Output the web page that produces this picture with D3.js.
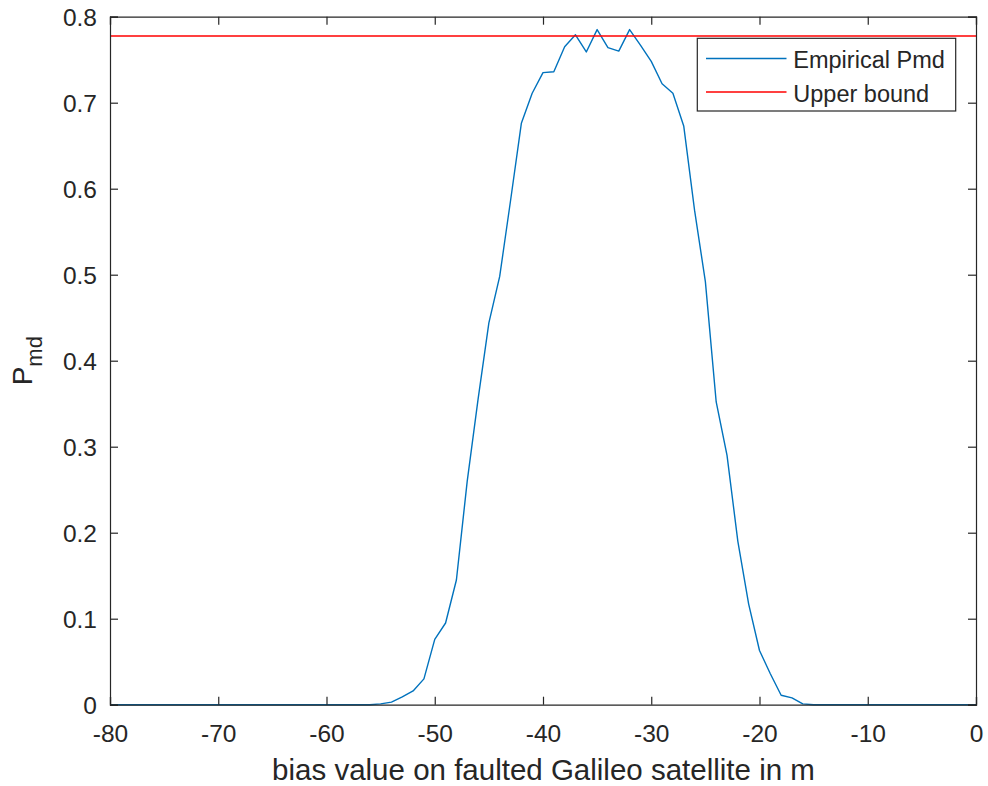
<!DOCTYPE html>
<html>
<head>
<meta charset="utf-8">
<script src="https://cdn.jsdelivr.net/npm/d3@7"></script>
<style>
  html, body { margin: 0; padding: 0; background: #fff; }
  svg { display: block; font-family: "Liberation Sans", Arial, Helvetica, sans-serif; }
</style>
</head>
<body>
<svg id="chart" width="988" height="786"></svg>
<script>
// ---- data ----
const biasValues = d3.range(-80, 1); // -80 ... 0 in 1 m steps
const pmdNonZero = {
  "-56": 0.000, "-55": 0.001, "-54": 0.003, "-53": 0.009, "-52": 0.016, "-51": 0.030,
  "-50": 0.076, "-49": 0.095, "-48": 0.145, "-47": 0.260, "-46": 0.355, "-45": 0.444,
  "-44": 0.498, "-43": 0.586, "-42": 0.676, "-41": 0.711, "-40": 0.735, "-39": 0.736,
  "-38": 0.765, "-37": 0.779, "-36": 0.759, "-35": 0.785, "-34": 0.764, "-33": 0.760,
  "-32": 0.785, "-31": 0.767, "-30": 0.748, "-29": 0.722, "-28": 0.711, "-27": 0.673,
  "-26": 0.575, "-25": 0.492, "-24": 0.352, "-23": 0.290, "-22": 0.190, "-21": 0.117,
  "-20": 0.063, "-19": 0.036, "-18": 0.011, "-17": 0.008, "-16": 0.001, "-15": 0.000
};
const empiricalPmd = biasValues.map(b => pmdNonZero[String(b)] !== undefined ? pmdNonZero[String(b)] : 0);
const upperBound = 0.7775;
const xTicks = [-80, -70, -60, -50, -40, -30, -20, -10, 0];
const yTicks = [0, 0.1, 0.2, 0.3, 0.4, 0.5, 0.6, 0.7, 0.8];
const legendLabels = ["Empirical Pmd", "Upper bound"];
const seriesColors = ["#0072BD", "#FF0000"];

// ---- layout ----
const L = 110, R = 976, T = 16.7, B = 704.7;
const svg = d3.select("#chart");
const x = d3.scaleLinear().domain([-80, 0]).range([L, R]);
const y = d3.scaleLinear().domain([0, 0.8]).range([B, T]);
const axisColor = "#262626";
const tickLen = 8;
const fs = 24.5;

svg.append("rect").attr("x", L).attr("y", T).attr("width", R - L).attr("height", B - T)
  .attr("fill", "#fff");

// lines
const line = d3.line().x((d, i) => x(biasValues[i])).y(d => y(d));
svg.append("path").datum(empiricalPmd).attr("d", line)
  .attr("fill", "none").attr("stroke", seriesColors[0]).attr("stroke-width", 1.4)
  .attr("stroke-linejoin", "round");
svg.append("line").attr("x1", x(-80)).attr("x2", x(0)).attr("y1", y(upperBound)).attr("y2", y(upperBound))
  .attr("stroke", seriesColors[1]).attr("stroke-width", 1.4);

// axes (ticks inward, mirrored)
const xAxisB = d3.axisBottom(x).tickValues(xTicks).tickSize(-tickLen).tickFormat(d => String(d));
const xAxisT = d3.axisTop(x).tickValues(xTicks).tickSize(-tickLen).tickFormat("");
const yAxisL = d3.axisLeft(y).tickValues(yTicks).tickSize(-tickLen).tickFormat(d => d === 0 ? "0" : d3.format(".1f")(d));
const yAxisR = d3.axisRight(y).tickValues(yTicks).tickSize(-tickLen).tickFormat("");

function styleAxis(g) {
  g.attr("font-size", fs).attr("font-family", "Liberation Sans, Arial, sans-serif");
  g.select(".domain").attr("stroke", axisColor).attr("stroke-width", 1.2);
  g.selectAll(".tick line").attr("stroke", axisColor).attr("stroke-width", 1.2);
  g.selectAll(".tick text").attr("fill", axisColor).attr("font-size", fs);
}
svg.append("g").attr("transform", `translate(0,${B})`).call(xAxisB).call(styleAxis)
  .selectAll(".tick text").attr("y", 742 - B).attr("dy", 0);
svg.append("g").attr("transform", `translate(0,${T})`).call(xAxisT).call(styleAxis);
svg.append("g").attr("transform", `translate(${L},0)`).call(yAxisL).call(styleAxis)
  .selectAll(".tick text").attr("x", -13).attr("dy", "0.36em");
svg.append("g").attr("transform", `translate(${R},0)`).call(yAxisR).call(styleAxis);

// axis labels
svg.append("text").attr("x", (L + R) / 2 + 0.5).attr("y", 780).attr("text-anchor", "middle")
  .attr("font-size", 29.5).attr("fill", axisColor).text("bias value on faulted Galileo satellite in m");

const yl = svg.append("text").attr("transform", `translate(32,${(T + B) / 2}) rotate(-90)`)
  .attr("text-anchor", "middle").attr("font-size", 28).attr("fill", axisColor);
yl.append("tspan").text("P");
yl.append("tspan").attr("dy", 10).attr("font-size", 22).text("md");

// legend
const lg = svg.append("g");
lg.append("rect").attr("x", 697.3).attr("y", 38.3).attr("width", 258.4).attr("height", 72.7)
  .attr("fill", "#fff").attr("stroke", axisColor).attr("stroke-width", 1.2);
legendLabels.forEach((lab, i) => {
  const yy = 58.5 + i * 33.5;
  lg.append("line").attr("x1", 706).attr("x2", 786.5).attr("y1", yy).attr("y2", yy)
    .attr("stroke", seriesColors[i]).attr("stroke-width", 1.4);
  lg.append("text").attr("x", 793.3).attr("y", yy + 9.5).attr("font-size", 23.5).attr("fill", axisColor).text(lab);
});
</script>
</body>
</html>
